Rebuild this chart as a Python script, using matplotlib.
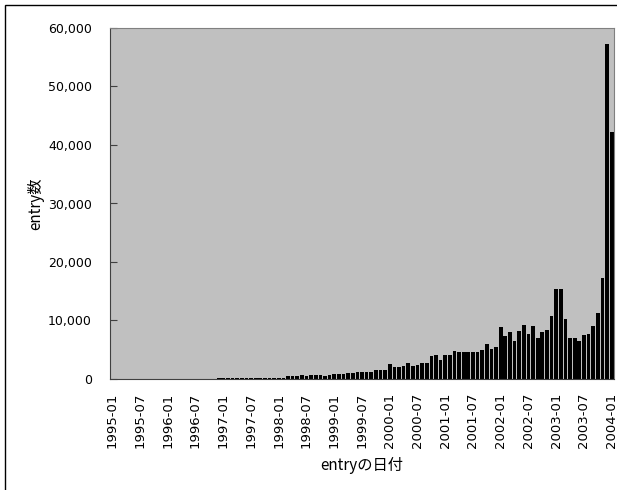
import matplotlib
matplotlib.use('Agg')
import matplotlib.pyplot as plt
from matplotlib.ticker import FuncFormatter
from matplotlib.patches import Rectangle

plt.rcParams['font.family'] = ['DejaVu Sans', 'Noto Sans CJK JP']
cjk = ['Noto Sans CJK JP', 'DejaVu Sans']

# monthly entry counts, 1995-01 .. 2004-01
months = ['%d-%02d' % (y, m) for y in range(1995, 2005) for m in range(1, 13)][:109]
counts = [0] * 20 + [80, 0, 0,
          100, 120, 110, 120, 130, 110, 130, 140, 150,
          230, 230, 230, 230, 230, 230,
          450, 450, 450,
          620, 450, 650, 650, 650, 450, 680,
          850, 850, 850, 1030, 1030,
          1250, 1250, 1250, 1250, 1480, 1480, 1480,
          2550, 2050, 2000, 2250, 2680, 2280, 2450, 2680, 2680,
          3950, 4100, 3300, 4100, 4100, 4800,
          4600, 4600, 4600, 4600, 4600, 4950, 5950, 5150, 5550,
          8950, 7300, 7950, 6450, 8150, 9300, 7650, 9000, 6950, 7950, 8400,
          10850, 15300, 15300, 10200, 7000, 7000, 6500, 7500, 7700, 9000,
          11200, 17200, 57200, 42200]
tick_labels = months[::6]

fig = plt.figure(figsize=(6.17, 4.90), dpi=100)
# outer chart frame (right and bottom edges fall outside the picture)
fig.patches.append(Rectangle((5 / 617, -0.1), 1.0, 1.1 - 5 / 490, transform=fig.transFigure,
                             fill=False, edgecolor='black', linewidth=1))

ax = fig.add_axes([110 / 617, 1 - 379 / 490, 504 / 617, 351 / 490])
ax.set_facecolor('#C0C0C0')
ax.bar(range(len(counts)), counts, width=0.8, color='black')

ax.set_xlim(-0.5, len(counts) - 0.5)
ax.set_ylim(0, 60000)
ax.set_yticks(range(0, 60001, 10000))
ax.yaxis.set_major_formatter(FuncFormatter(lambda v, p: '{:,.0f}'.format(v)))
ax.set_xticks(range(0, len(counts), 6))
ax.set_xticklabels(tick_labels, rotation=90)

ax.tick_params(axis='y', direction='in', length=5, color='#404040', labelsize=9, pad=13)
ax.tick_params(axis='x', length=0, labelsize=9.5, pad=10)
for side in ['top', 'right']:
    ax.spines[side].set_color('#808080')
for side in ['left', 'bottom']:
    ax.spines[side].set_color('#404040')

ax.set_ylabel('entry数', fontsize=11, labelpad=3, family=cjk)
ax.set_xlabel('entryの日付', fontsize=11, labelpad=6, family=cjk)

plt.savefig('out.png', dpi=100)
